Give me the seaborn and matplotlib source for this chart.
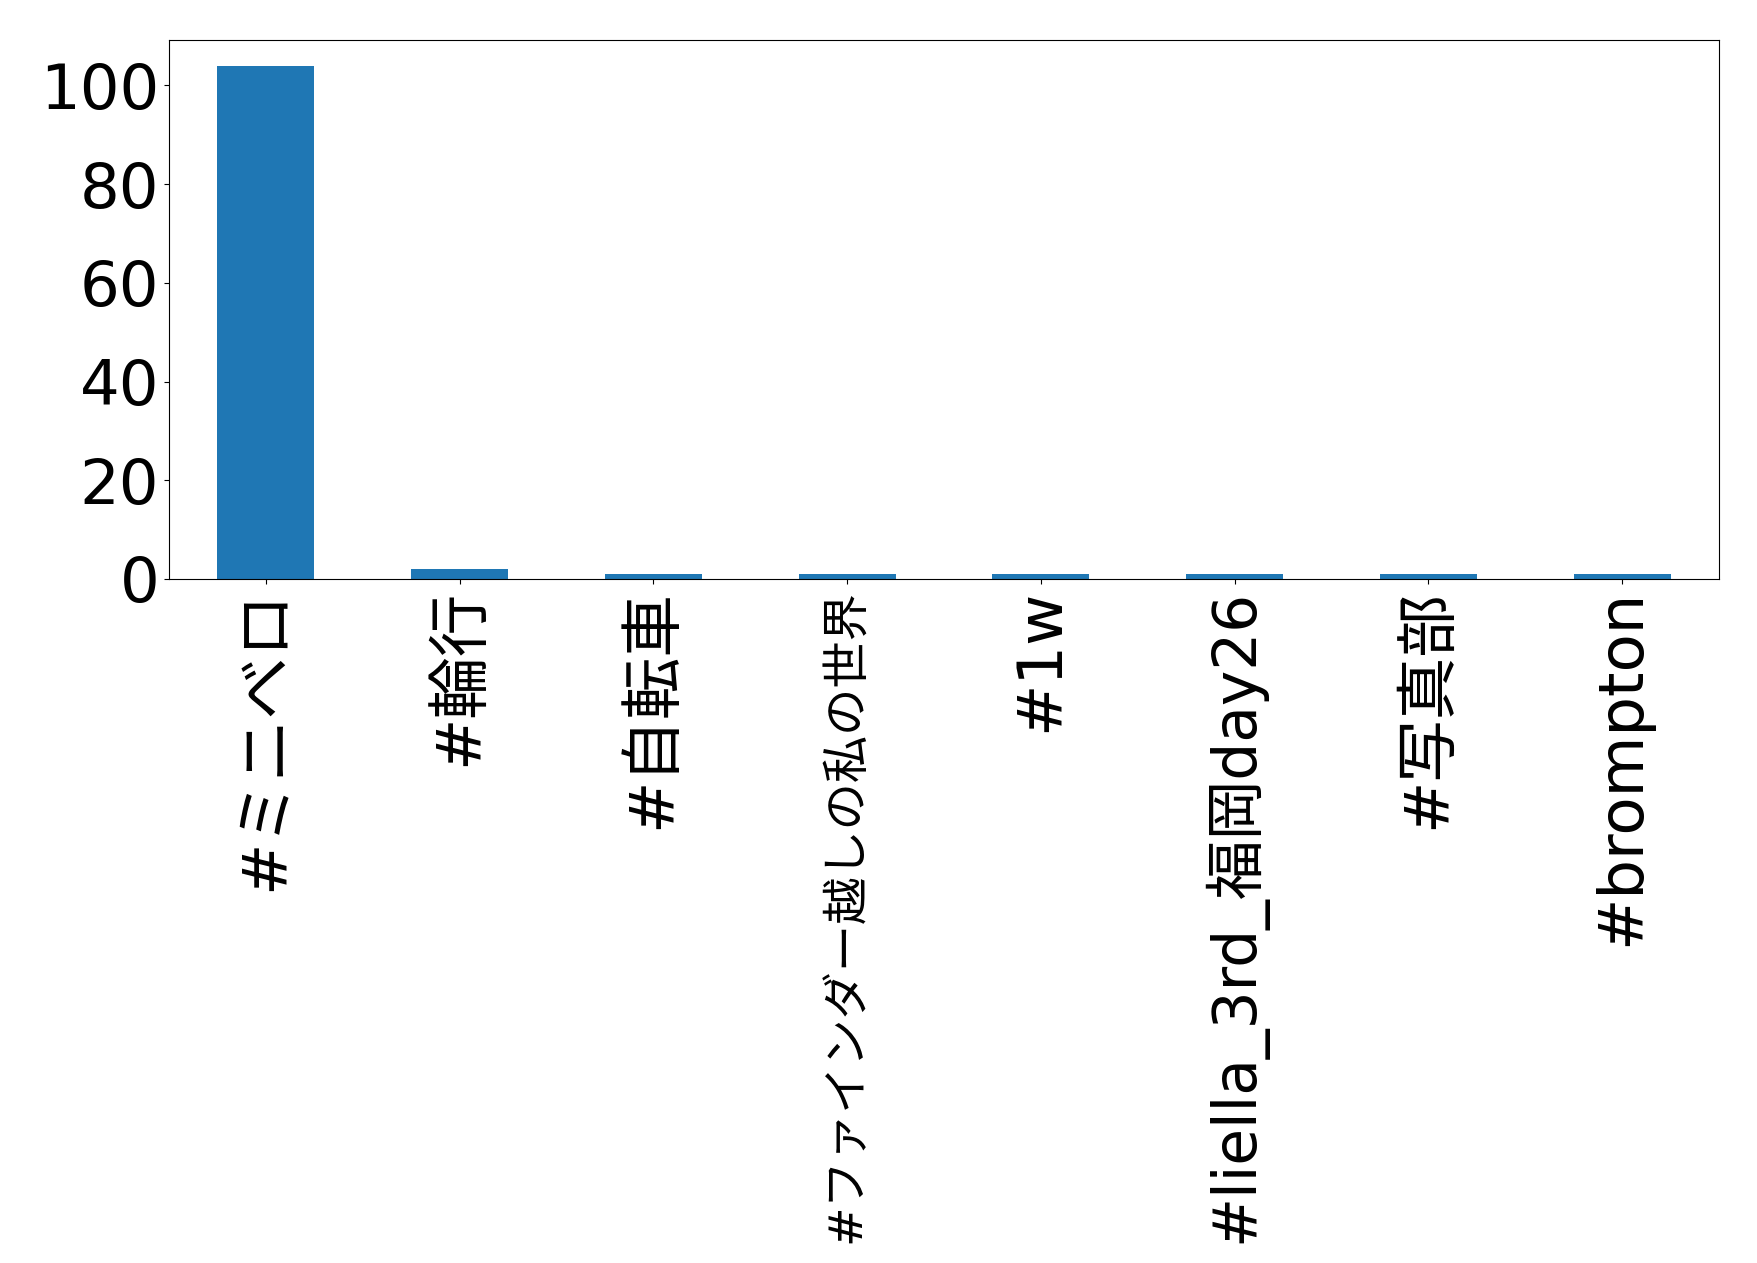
import pandas as pd
import matplotlib
matplotlib.use("Agg")
import matplotlib.pyplot as plt
from matplotlib.ticker import MultipleLocator
import seaborn as sns

# Latin text in DejaVu Sans, Japanese falls back to Noto Sans CJK JP
plt.rcParams["font.family"] = ["DejaVu Sans", "Noto Sans CJK JP"]

# hashtags and how often they appear
hashtags = [
    "#ミニベロ",
    "#輪行",
    "#自転車",
    "#ファインダー越しの私の世界",
    "#1w",
    "#liella_3rd_福岡day26",
    "#写真部",
    "#brompton",
]
counts = [104, 2, 1, 1, 1, 1, 1, 1]

df = pd.DataFrame({"hashtag": hashtags, "count": counts})

fig = plt.figure(figsize=(17.58, 12.63), dpi=100)
ax = fig.add_axes([0.0961, 0.5416, 0.8817, 0.4267])

sns.barplot(
    data=df,
    x="hashtag",
    y="count",
    color="#1f77b4",
    saturation=1,
    width=0.5,
    ax=ax,
)

ax.set_xlim(-0.5, len(hashtags) - 0.5)
ax.set_ylim(0, max(counts) * 1.05)
ax.yaxis.set_major_locator(MultipleLocator(20))
ax.set_xlabel("")
ax.set_ylabel("")
ax.tick_params(axis="both", labelsize=45)
ax.tick_params(axis="x", labelrotation=90)

# long japanese labels are wider than the latin ones, shrink those that
# would run off the bottom of the figure
fig.canvas.draw()
renderer = fig.canvas.get_renderer()
for lab in ax.get_xticklabels():
    size = lab.get_fontsize()
    while lab.get_window_extent(renderer).y0 < 10 and size > 10:
        size -= 1
        lab.set_fontsize(size)

fig.savefig("out.png", dpi=100)
